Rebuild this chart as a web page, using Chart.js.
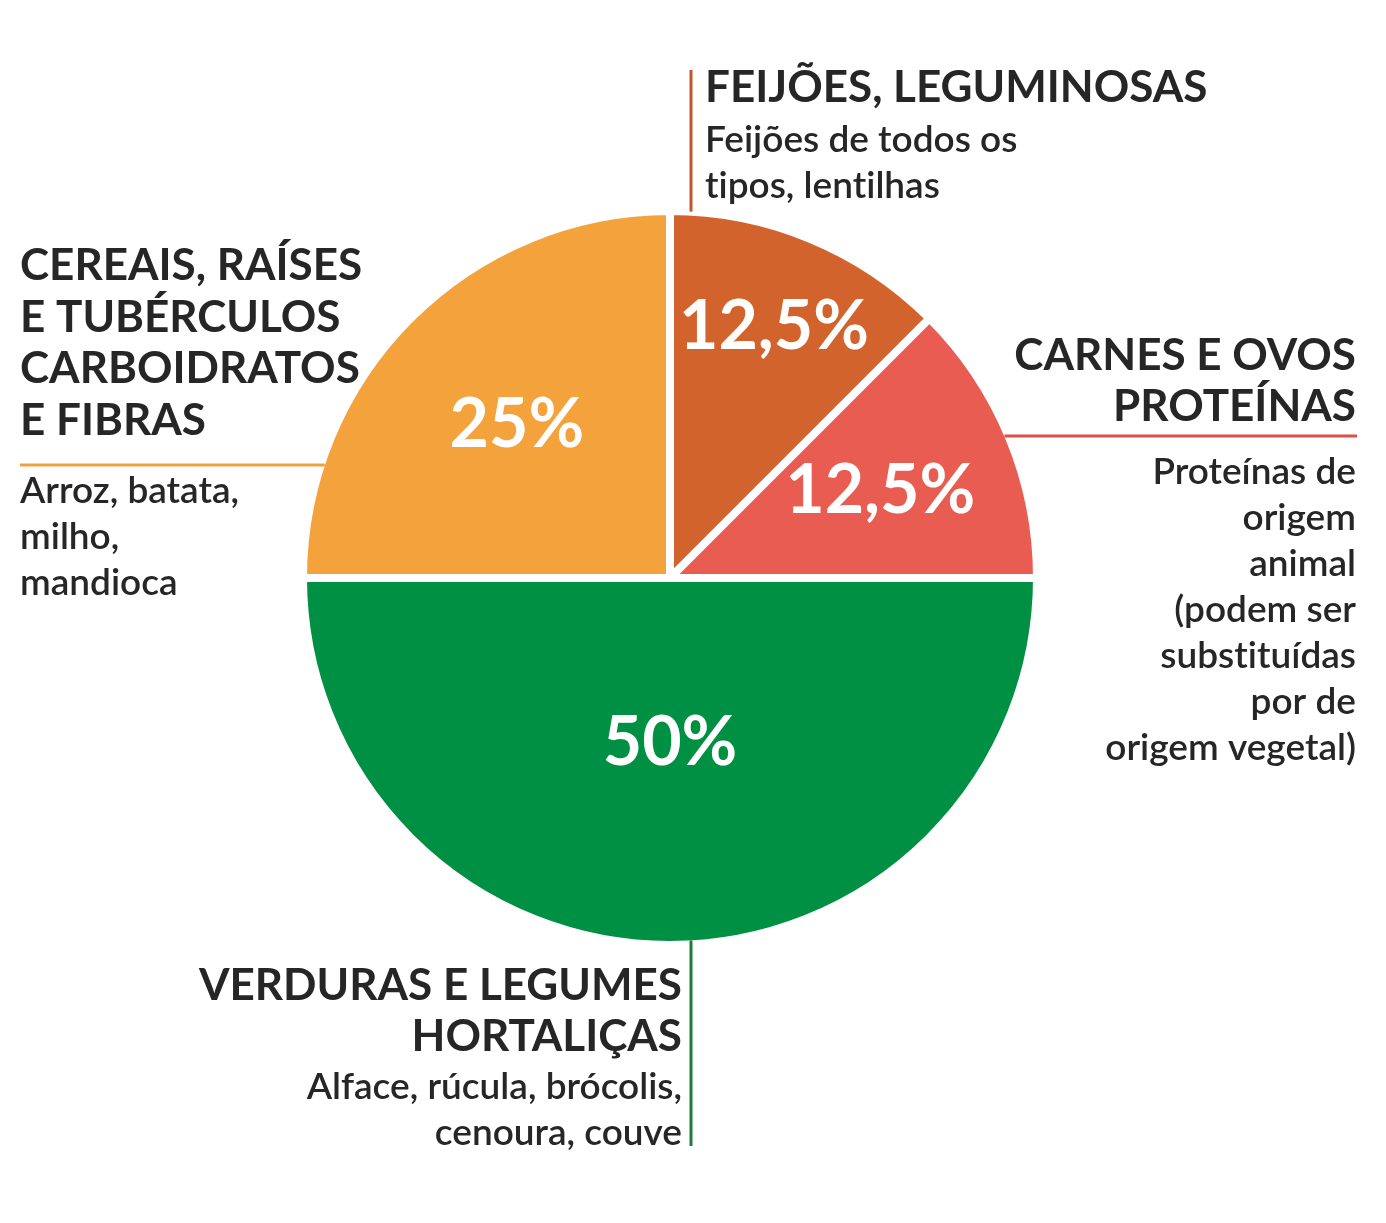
<!DOCTYPE html>
<html>
<head>
<meta charset="utf-8">
<script src="https://cdn.jsdelivr.net/npm/chart.js@4"></script>
<style>
  html, body { margin: 0; padding: 0; background: #fff; }
  #wrap { width: 1386px; height: 1223px; }
</style>
</head>
<body>
<div id="wrap"><canvas id="myChart" width="1386" height="1223"></canvas></div>
<script>
// データ（時計回り、上から）
const categories = ['FEIJÕES, LEGUMINOSAS', 'CARNES E OVOS', 'VERDURAS E LEGUMES', 'CEREAIS, RAÍSES'];
const values = [12.5, 12.5, 50, 25];
const percentLabels = ['12,5%', '12,5%', '50%', '25%'];
const sliceColors = ['#D2632C', '#E95C51', '#009043', '#F4A23B'];
const lineColors = ['#C2552A', '#D9514B', '#1F7D3B', '#EFA141'];

const titles = [
    ['FEIJÕES, LEGUMINOSAS'],
    ['CARNES E OVOS', 'PROTEÍNAS'],
    ['VERDURAS E LEGUMES', 'HORTALIÇAS'],
    ['CEREAIS, RAÍSES', 'E TUBÉRCULOS', 'CARBOIDRATOS', 'E FIBRAS']
];
const descriptions = [
    ['Feijões de todos os', 'tipos, lentilhas'],
    ['Proteínas de', 'origem', 'animal', '(podem ser', 'substituídas', 'por de', 'origem vegetal)'],
    ['Alface, rúcula, brócolis,', 'cenoura, couve'],
    ['Arroz, batata,', 'milho,', 'mandioca']
];

const TEXT = '#262626';
const titleFont = 'bold 44px Lato';
const bodyFont = '600 37px Lato';

// パーセント表示とラベルを描くプラグイン
const labelPlugin = {
    id: 'labels',
    afterDatasetsDraw(chart) {
        const ctx = chart.ctx;
        const arcs = chart.getDatasetMeta(0).data;
        const fracs = [0.74, 0.62, 0.45, 0.59];
        ctx.save();
        ctx.textRendering = 'optimizeSpeed';
        ctx.fillStyle = '#fff';
        ctx.font = 'bold 68px Lato';
        ctx.textAlign = 'center';
        ctx.textBaseline = 'middle';
        arcs.forEach((a, i) => {
            const mid = (a.startAngle + a.endAngle) / 2;
            const r = a.outerRadius * fracs[i];
            ctx.fillText(percentLabels[i], a.x + Math.cos(mid) * r, a.y + Math.sin(mid) * r);
        });

        const cx = arcs[0].x, cy = arcs[0].y, R = arcs[0].outerRadius;
        ctx.textBaseline = 'alphabetic';
        ctx.fillStyle = TEXT;

        function lines(list, x, y, step, font, align) {
            ctx.font = font;
            ctx.textAlign = align;
            list.forEach((t, k) => ctx.fillText(t, x, y + k * step));
        }

        // FEIJÕES
        ctx.strokeStyle = lineColors[0];
        ctx.lineWidth = 3;
        ctx.beginPath(); ctx.moveTo(691, 70); ctx.lineTo(691, cy - Math.sqrt(R * R - 21 * 21)); ctx.stroke();
        lines(titles[0], 705, 102, 51, titleFont, 'left');
        lines(descriptions[0], 705, 152, 46, bodyFont, 'left');

        // CARNES
        ctx.strokeStyle = lineColors[1];
        const yr = 436;
        ctx.beginPath(); ctx.moveTo(cx + Math.sqrt(R * R - (cy - yr) * (cy - yr)) - 4, yr); ctx.lineTo(1357, yr); ctx.stroke();
        lines(titles[1], 1356, 370, 51, titleFont, 'right');
        lines(descriptions[1], 1356, 484, 46, bodyFont, 'right');

        // VERDURAS
        ctx.strokeStyle = lineColors[2];
        ctx.beginPath(); ctx.moveTo(691, cy + Math.sqrt(R * R - 21 * 21) - 4); ctx.lineTo(691, 1146); ctx.stroke();
        lines(titles[2], 682, 1000, 51, titleFont, 'right');
        lines(descriptions[2], 682, 1099, 46, bodyFont, 'right');

        // CEREAIS
        ctx.strokeStyle = lineColors[3];
        const yl = 465;
        ctx.beginPath(); ctx.moveTo(20, yl); ctx.lineTo(cx - Math.sqrt(R * R - (cy - yl) * (cy - yl)) + 4, yl); ctx.stroke();
        lines(titles[3], 20, 280, 51.5, titleFont, 'left');
        lines(descriptions[3], 20, 503, 46, bodyFont, 'left');
        ctx.restore();
    }
};

function drawChart() {
    const ctx = document.getElementById('myChart').getContext('2d');

    const data = {
        labels: categories,
        datasets: [{
            data: values,
            backgroundColor: sliceColors,
            borderColor: '#ffffff',
            borderWidth: 8,
            hoverOffset: 0
        }]
    };

    const config = {
        type: 'pie',
        data: data,
        options: {
            responsive: false,
            animation: false,
            events: [],
            layout: {
                padding: { left: 299, right: 345, top: 207, bottom: 274 }
            },
            plugins: {
                legend: { display: false },
                tooltip: { enabled: false }
            }
        },
        plugins: [labelPlugin]
    };

    new Chart(ctx, config);
}

document.fonts.load('bold 44px Lato').then(() => document.fonts.load('600 37px Lato')).then(drawChart, drawChart);
</script>
</body>
</html>
